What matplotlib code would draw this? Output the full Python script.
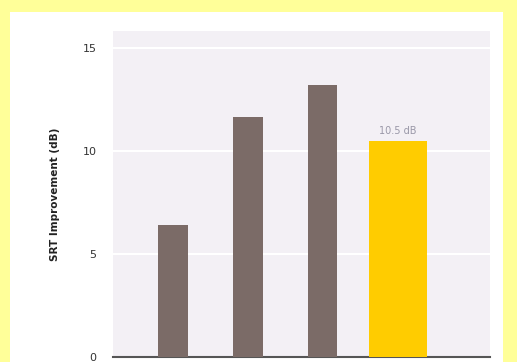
import numpy as np
import matplotlib.pyplot as plt
from matplotlib.patches import Rectangle

categories = ['A', 'B', 'C', 'D']
values = [6.4, 11.65, 13.2, 10.45]
bar_colors = ['#7b6b67', '#7b6b67', '#7b6b67', '#ffcc00']
bar_widths = [0.39, 0.39, 0.39, 0.78]
annotation = '10.5 dB'
yticks = [0, 5, 10, 15]

fig = plt.figure(figsize=(5.17, 3.62), dpi=100)
fig.patch.set_facecolor('#ffff99')
# white inner panel
fig.patches.append(Rectangle((10 / 517, 0), 493 / 517, 350 / 362,
                             transform=fig.transFigure, facecolor='white',
                             edgecolor='none', zorder=-5))

ax = fig.add_axes([113 / 517, 5 / 362, 377 / 517, 326 / 362])
ax.set_zorder(2)
ax.set_facecolor('#f3f0f5')

x = np.arange(len(categories))
ax.bar(x, values, width=bar_widths, color=bar_colors, zorder=3)
ax.text(x[3], values[3] + 0.25, annotation, ha='center', va='bottom',
        fontsize=7, color='#9a98a8', zorder=4)

ax.set_xlim(-0.8, 4.23)
ax.set_ylim(0, 15.8)
ax.set_yticks(yticks)
ax.set_xticks([])
ax.grid(axis='y', color='white', linewidth=1.5, zorder=1)
ax.tick_params(axis='y', length=0, pad=12, labelsize=8, labelcolor='#333333')

for side in ['top', 'right', 'left']:
    ax.spines[side].set_visible(False)
ax.spines['bottom'].set_color('#555555')
ax.spines['bottom'].set_linewidth(1.5)

ax.set_ylabel('SRT Improvement (dB)', fontsize=7.5, fontweight='bold',
              color='#222222', labelpad=16)

fig.savefig('out.png', dpi=100, facecolor=fig.get_facecolor())
